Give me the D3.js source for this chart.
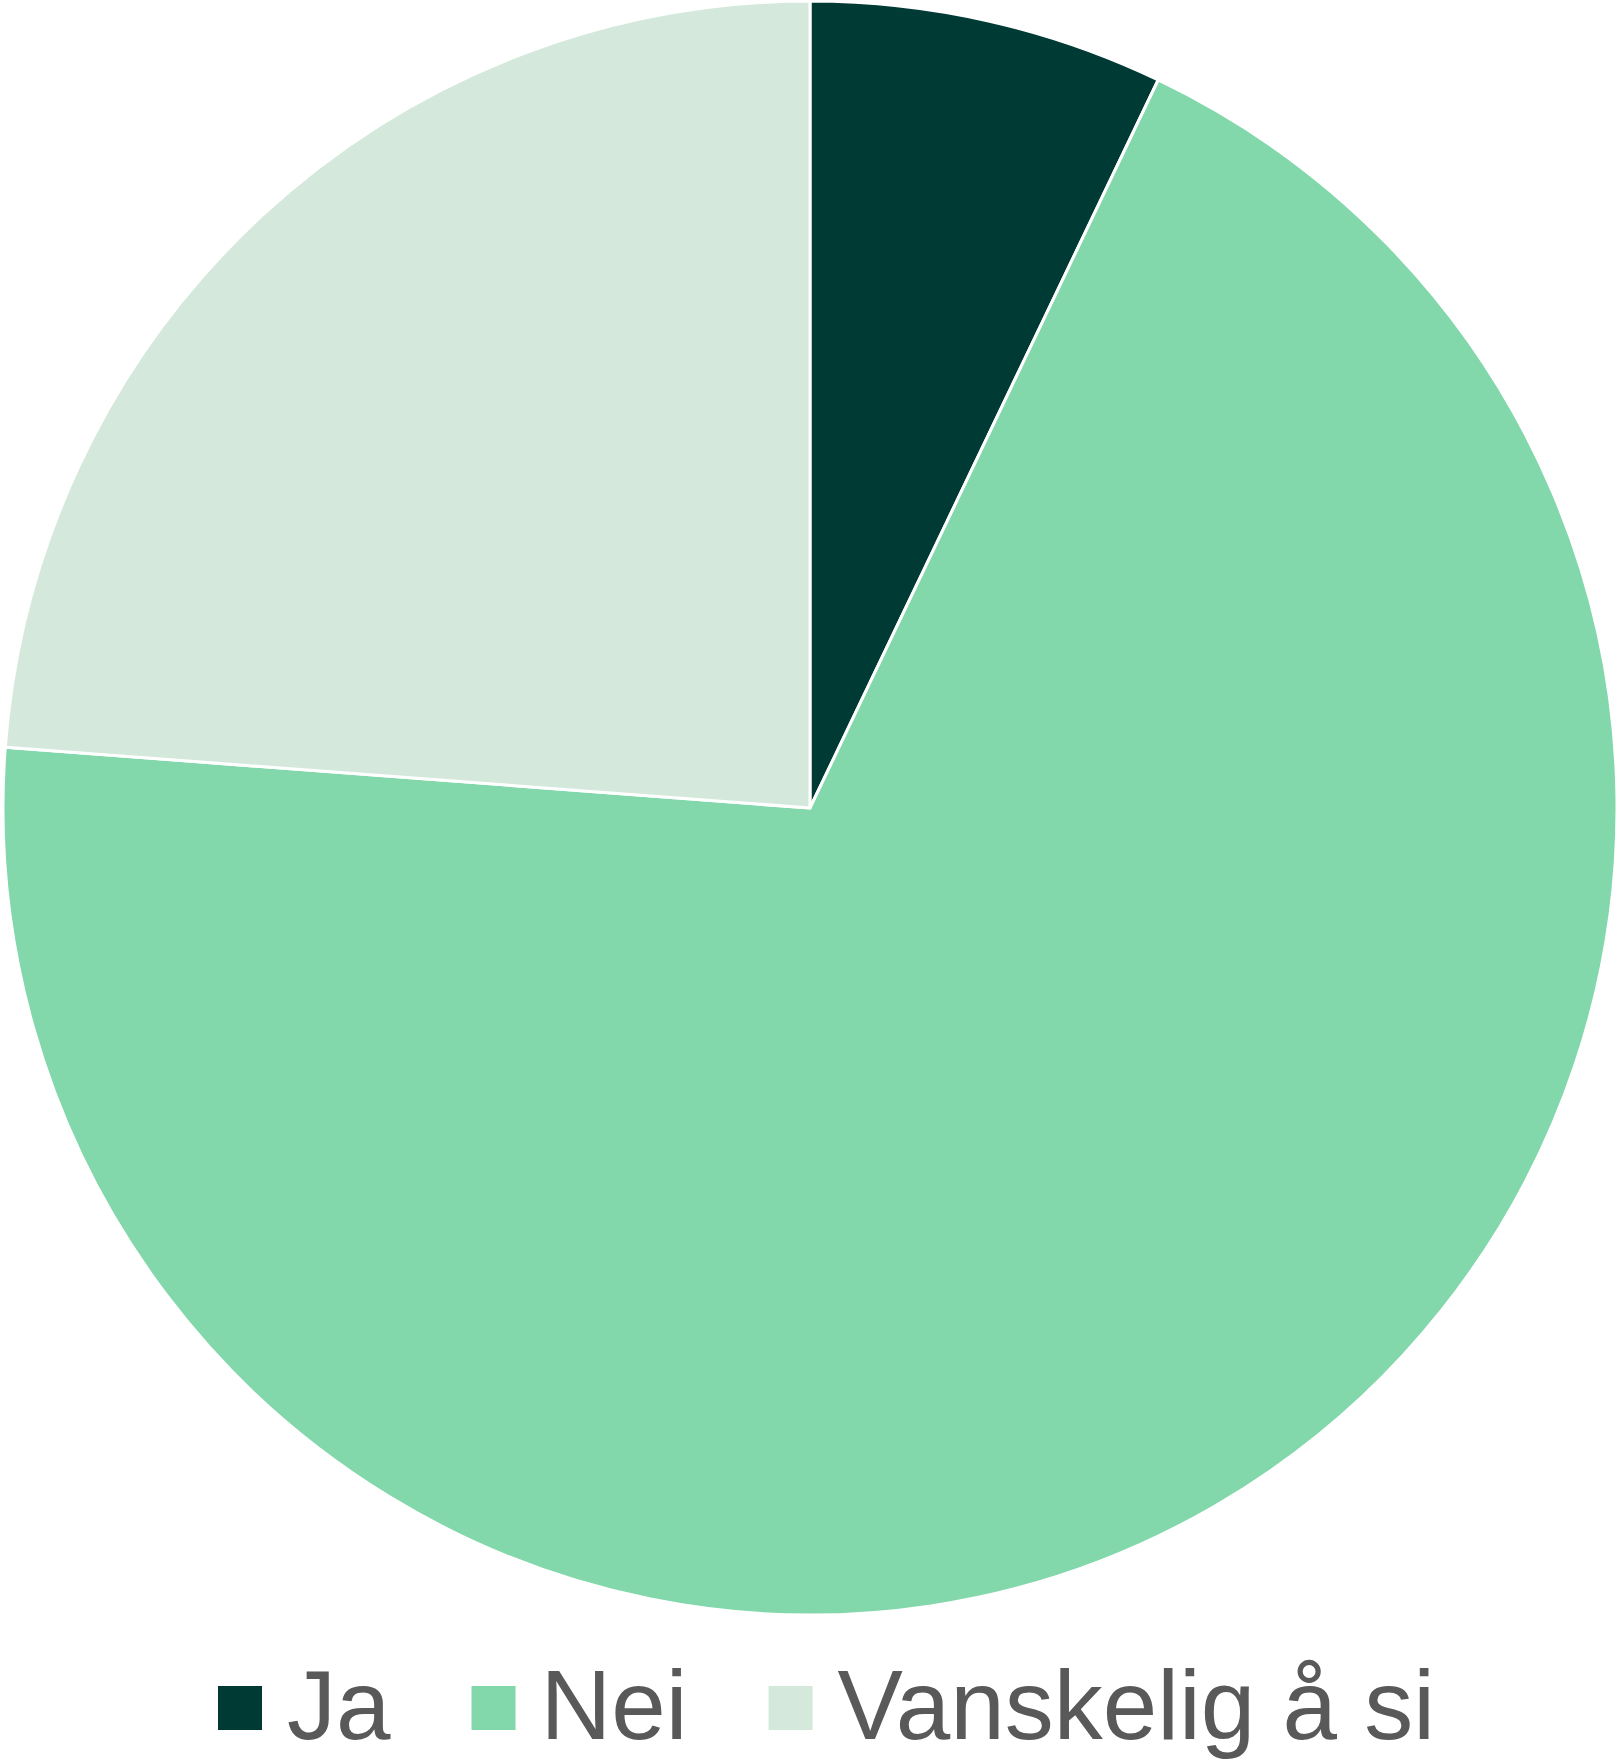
<!DOCTYPE html>
<html>
<head>
<meta charset="utf-8">
<script src="https://cdn.jsdelivr.net/npm/d3@7"></script>
<style>
  html, body { margin: 0; padding: 0; background: #ffffff; }
  svg { display: block; }
</style>
</head>
<body>
<script>
// Survey answers (share of respondents, %)
const categories = ["Ja", "Nei", "Vanskelig å si"];
const values = [7.1, 69.1, 23.8];
const colors = ["#003a35", "#82d7ab", "#d5e8dc"];

const width = 1619, height = 1761;
const cx = 810, cy = 808, radius = 807;

const svg = d3.select("body").append("svg")
  .attr("width", width)
  .attr("height", height);

const data = categories.map((c, i) => ({ label: c, value: values[i], color: colors[i] }));

const pie = d3.pie().value(d => d.value).sort(null);
const arc = d3.arc().innerRadius(0).outerRadius(radius);

svg.append("g")
  .attr("transform", `translate(${cx},${cy})`)
  .selectAll("path")
  .data(pie(data))
  .join("path")
  .attr("d", arc)
  .attr("fill", d => d.data.color)
  .attr("stroke", "#ffffff")
  .attr("stroke-width", 3)
  .attr("stroke-linejoin", "round");

// Legend along the bottom
const legend = svg.append("g").attr("font-family", "'Liberation Sans', Arial, sans-serif");
const sw = 44, textGap = 25, itemGap = 81;
const legendTop = 1686, baseline = 1739;
let x = 218;
data.forEach(d => {
  legend.append("rect")
    .attr("x", x).attr("y", legendTop)
    .attr("width", sw).attr("height", sw)
    .attr("fill", d.color);
  const t = legend.append("text")
    .attr("x", x + sw + textGap)
    .attr("y", baseline)
    .attr("font-size", 98)
    .attr("fill", "#595959")
    .text(d.label);
  x += sw + textGap + t.node().getComputedTextLength() + itemGap;
});
</script>
</body>
</html>
